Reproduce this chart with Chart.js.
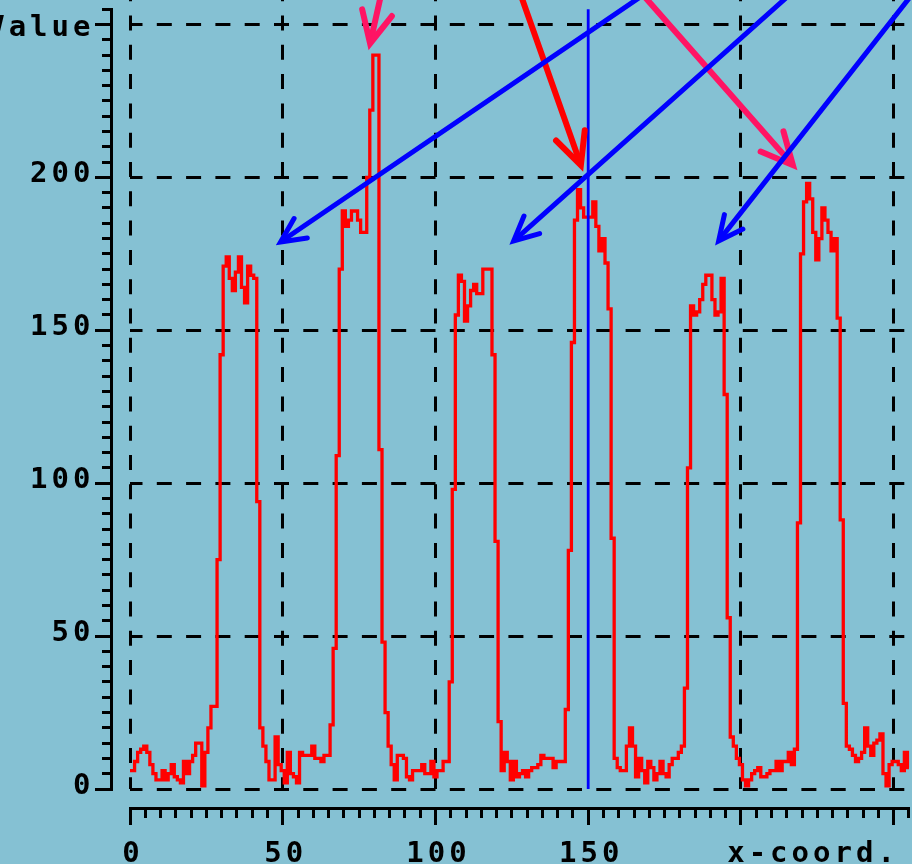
<!DOCTYPE html>
<html>
<head>
<meta charset="utf-8">
<title>Line profile</title>
<script src="https://cdn.jsdelivr.net/npm/chart.js@4.4.1/dist/chart.umd.min.js"></script>
<style>
  html, body { margin: 0; padding: 0; background: #85c1d3; }
  #chart { display: block; }
</style>
</head>
<body>
<canvas id="chart" width="912" height="864"></canvas>
<script>
// ---- values (one per x-coord, 0..255) ----
const intensity = [
    6,   6,   9,  12,  13,  14,  12,   8,   5,   3,   3,   6,   3,   5,   8,   4,
    3,   2,   9,   5,   9,  11,  15,  15,   1,  12,  20,  27,  27,  75, 142, 171,
  174, 167, 163, 169, 174, 164, 159, 171, 168, 167,  94,  20,  14,   9,   3,   3,
   17,   8,   6,   2,  12,   5,   4,   2,  12,  11,  11,  11,  14,  10,  10,   9,
   11,  11,  21,  46, 109, 170, 189, 184, 186, 189, 189, 186, 182, 182, 200, 222,
  240, 240, 111,  48,  25,  14,   8,   3,  11,  11,  10,   4,   3,   6,   6,   6,
    8,   5,   5,   9,   4,   6,   6,   9,   9,  35,  98, 155, 168, 166, 153, 158,
  163, 165, 162, 162, 170, 170, 170, 142,  81,  22,   6,  12,   9,   3,   9,   4,
    5,   6,   4,   6,   7,   7,   8,  11,  10,  10,  10,   7,   9,   9,   9,  26,
   78, 146, 186, 196, 190, 187, 187, 187, 192, 184, 176, 180, 172, 157,  82,  10,
    7,   6,   6,  14,  20,  14,   4,  10,   6,   2,   9,   7,   3,   5,   9,   5,
    4,   8,  10,  10,  12,  14,  33, 105, 158, 155, 156, 160, 165, 168, 168, 160,
  155, 156, 167, 129,  56,  17,  14,  10,   8,   3,   1,   3,   5,   6,   7,   4,
    4,   5,   6,   6,   9,   6,   9,   9,  12,   8,  13,  87, 175, 192, 198, 193,
  182, 173, 180, 190, 186, 182, 176, 180, 154,  88,  28,  14,  13,  11,   9,  10,
   12,  20,  14,  11,  15,  16,  18,   5,   1,   8,   9,   9,   8,   6,  12,   7
];

const markerX = 150;              // blue cursor line
const axisMax = 255;              // both axes run 0..255
const gridValues = [0, 50, 100, 150, 200, 250];
const xTickLabels = [0, 50, 100, 150];
const yTickLabels = [0, 50, 100, 150, 200];
const xTitle = 'x-coord.';
const xTitleAt = 195.5;
const yTitle = 'Value';
const yTitleAt = 250;

// annotation arrows in data units: [x, y] tail and head
const arrowTails = [[81.8, 258], [128.5, 258], [169.4, 258], [165.6, 258], [214.0, 258], [254.6, 258]];
const arrowHeads = [[78.6, 243.8], [147.6, 204.0], [217.0, 204.0], [49.3, 178.9], [125.6, 179.2], [192.7, 179.2]];
const arrowKinds = ['pink', 'red', 'pink', 'blue', 'blue', 'blue'];

// ---- styles ----
const INK = '#000000';
const arrowStyle = {
    pink: { color: '#ff1464', width: 6, wing: 35 },
    red:  { color: '#ff0000', width: 6, wing: 35 },
    blue: { color: '#0000ff', width: 5, wing: 27 }
};
const FONT = 'bold 29px "DejaVu Sans Mono", "Liberation Mono", monospace';
const LETTER_GAP = 4;

function crisp(p) {
    return Math.round(p - 0.5) + 0.5;
}

function putText(ctx, text, x, y, align) {
    ctx.textAlign = align;
    // letterSpacing also pads the last glyph, push back so the ink sits where asked
    let shift = 0;
    if (align === 'right') shift = LETTER_GAP;
    if (align === 'center') shift = LETTER_GAP / 2;
    ctx.fillText(text, x + shift, y);
}

function drawArrow(ctx, x0, y0, x1, y1, style) {
    const ang = Math.atan2(y1 - y0, x1 - x0);
    const spread = 0.45;
    ctx.save();
    ctx.strokeStyle = style.color;
    ctx.lineWidth = style.width;
    ctx.lineCap = 'round';
    ctx.beginPath();
    ctx.moveTo(x0 - Math.cos(ang) * 40, y0 - Math.sin(ang) * 40);
    ctx.lineTo(x1 - Math.cos(ang) * 2, y1 - Math.sin(ang) * 2);
    ctx.stroke();
    ctx.lineJoin = 'miter';
    ctx.beginPath();
    ctx.moveTo(x1 - style.wing * Math.cos(ang - spread), y1 - style.wing * Math.sin(ang - spread));
    ctx.lineTo(x1, y1);
    ctx.lineTo(x1 - style.wing * Math.cos(ang + spread), y1 - style.wing * Math.sin(ang + spread));
    ctx.stroke();
    ctx.restore();
}

// arrows on top of the data
const arrowPlugin = {
    id: 'arrows',
    afterDatasetsDraw(chart) {
        const xs = chart.scales.x, ys = chart.scales.y;
        arrowTails.forEach((tail, i) => {
            const head = arrowHeads[i];
            drawArrow(chart.ctx,
                xs.getPixelForValue(tail[0]), ys.getPixelForValue(tail[1]),
                xs.getPixelForValue(head[0]), ys.getPixelForValue(head[1]),
                arrowStyle[arrowKinds[i]]);
        });
    }
};

// detached axes with minor ticks, labels and titles
const axesPlugin = {
    id: 'detachedAxes',
    afterDraw(chart) {
        const ctx = chart.ctx;
        const xs = chart.scales.x, ys = chart.scales.y;
        const axisX = crisp(chart.chartArea.left - 19);
        const axisY = crisp(chart.chartArea.bottom + 19);
        ctx.save();
        ctx.strokeStyle = INK;
        ctx.fillStyle = INK;
        ctx.lineWidth = 3;
        ctx.lineCap = 'butt';

        // y axis
        const yTop = crisp(ys.getPixelForValue(axisMax));
        const yBottom = crisp(ys.getPixelForValue(0));
        ctx.beginPath();
        ctx.moveTo(axisX, yTop - 1.5);
        ctx.lineTo(axisX, yBottom + 1.5);
        ctx.stroke();
        for (let v = 0; v <= axisMax; v += 5) {
            const py = crisp(ys.getPixelForValue(v));
            const len = v % 50 === 0 ? 15 : 8;
            ctx.beginPath();
            ctx.moveTo(axisX + 1.5, py);
            ctx.lineTo(axisX - 1.5 - len, py);
            ctx.stroke();
        }

        // x axis
        const xLeft = crisp(xs.getPixelForValue(0));
        const xRight = crisp(xs.getPixelForValue(axisMax));
        ctx.beginPath();
        ctx.moveTo(xLeft - 1.5, axisY);
        ctx.lineTo(xRight + 1.5, axisY);
        ctx.stroke();
        for (let v = 0; v <= axisMax; v += 5) {
            const px = crisp(xs.getPixelForValue(v));
            const len = v % 50 === 0 ? 15 : 8;
            ctx.beginPath();
            ctx.moveTo(px, axisY - 1.5);
            ctx.lineTo(px, axisY + 1.5 + len);
            ctx.stroke();
        }

        // labels
        ctx.font = FONT;
        ctx.letterSpacing = LETTER_GAP + 'px';
        ctx.textBaseline = 'alphabetic';
        yTickLabels.forEach(v => {
            putText(ctx, String(v), axisX - 21, ys.getPixelForValue(v) + 5, 'right');
        });
        putText(ctx, yTitle, axisX - 21, ys.getPixelForValue(yTitleAt) + 12, 'right');
        xTickLabels.forEach(v => {
            putText(ctx, String(v), xs.getPixelForValue(v) + 1, axisY + 53, 'center');
        });
        putText(ctx, xTitle, xs.getPixelForValue(xTitleAt), axisY + 53, 'left');
        ctx.restore();
    }
};

const profilePoints = intensity.map((v, i) => ({ x: i, y: v }));
const markerPoints = [{ x: markerX, y: 0 }, { x: markerX, y: axisMax }];

const dashedGrid = (values, offset) => ({
    afterBuildTicks(scale) {
        scale.ticks = values.map(v => ({ value: v }));
    },
    grid: {
        color: INK,
        lineWidth: 3,
        drawTicks: false
    },
    border: { display: false, dash: [15, 14.3], dashOffset: offset },
    ticks: { display: false }
});

new Chart(document.getElementById('chart'), {
    type: 'line',
    data: {
        datasets: [
            {
                label: 'cursor',
                data: markerPoints,
                borderColor: '#0000ff',
                borderWidth: 2.8,
                pointRadius: 0,
                clip: false,
                order: 0
            },
            {
                label: 'profile',
                data: profilePoints,
                borderColor: '#ff0000',
                borderWidth: 3.3,
                stepped: 'middle',
                pointRadius: 0,
                clip: false,
                order: 1
            }
        ]
    },
    options: {
        responsive: false,
        animation: false,
        devicePixelRatio: 1,
        layout: { padding: { left: 130, right: 0, top: 0, bottom: 75 } },
        plugins: {
            legend: { display: false },
            tooltip: { enabled: false }
        },
        scales: {
            x: Object.assign({
                type: 'linear',
                min: 0,
                max: 256,
                afterFit(scale) { scale.height = 0; }
            }, dashedGrid(gridValues.filter(v => v !== markerX), 13.8)),
            y: Object.assign({
                type: 'linear',
                min: 0,
                max: 258,
                afterFit(scale) { scale.width = 0; }
            }, dashedGrid(gridValues, 2.5))
        }
    },
    plugins: [arrowPlugin, axesPlugin]
});
</script>
</body>
</html>
